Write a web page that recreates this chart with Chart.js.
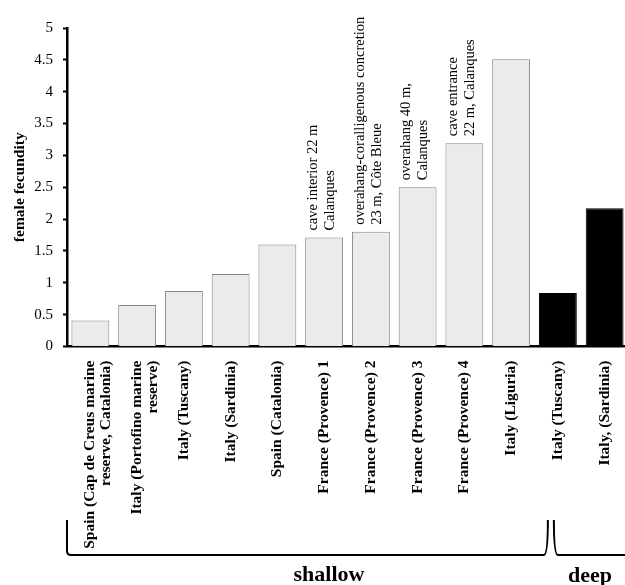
<!DOCTYPE html>
<html>
<head>
<meta charset="utf-8">
<script src="https://cdn.jsdelivr.net/npm/chart.js@4.4.1/dist/chart.umd.min.js"></script>
<style>
  html, body { margin: 0; background: #fff; overflow: hidden; }
</style>
</head>
<body>
<canvas id="myChart" width="628" height="585"></canvas>
<script>
// categories (multi-line labels)
const siteLabels = [
    ['Spain (Cap de Creus marine', 'reserve, Catalonia)'],
    ['Italy (Portofino marine', 'reserve)'],
    'Italy (Tuscany)',
    'Italy (Sardinia)',
    'Spain (Catalonia)',
    'France (Provence) 1',
    'France (Provence) 2',
    'France (Provence) 3',
    'France (Provence) 4',
    'Italy (Liguria)',
    'Italy (Tuscany)',
    'Italy, (Sardinia)'
];
const fecundity = [0.41, 0.65, 0.87, 1.14, 1.6, 1.71, 1.8, 2.5, 3.19, 4.51, 0.84, 2.17];
const depthGroup = ['shallow', 'shallow', 'shallow', 'shallow', 'shallow', 'shallow',
                    'shallow', 'shallow', 'shallow', 'shallow', 'deep', 'deep'];
const barNotes = [null, null, null, null, null,
    ['cave interior 22 m', 'Calanques'],
    ['overahang-coralligenous concretion', '23 m, Côte Bleue'],
    ['overahang 40 m,', 'Calanques'],
    ['cave entrance', '22 m, Calanques'],
    null, null, null];
const groupNames = ['shallow', 'deep'];
const yTicks = [0, 0.5, 1, 1.5, 2, 2.5, 3, 3.5, 4, 4.5, 5];

const serif = '"Liberation Serif", "Times New Roman", serif';

// text above the bars, rotated
const notesPlugin = {
    id: 'barNotes',
    afterDatasetsDraw(chart) {
        const ctx = chart.ctx;
        const meta = chart.getDatasetMeta(0);
        ctx.save();
        ctx.font = '14.5px ' + serif;
        ctx.fillStyle = '#000';
        ctx.textAlign = 'left';
        ctx.textBaseline = 'middle';
        barNotes.forEach(function(lines, i) {
            if (!lines) return;
            const bar = meta.data[i];
            ctx.save();
            ctx.translate(bar.x, bar.y - 7);
            ctx.rotate(-Math.PI / 2);
            lines.forEach(function(line, j) {
                ctx.fillText(line, 0, -11 + j * 17);
            });
            ctx.restore();
        });
        ctx.restore();
    }
};

// the shallow / deep brackets under the labels
const bracketPlugin = {
    id: 'brackets',
    afterDraw(chart) {
        const ctx = chart.ctx;
        const x = chart.scales.x;
        const firstDeep = depthGroup.indexOf('deep');
        const split = x.getPixelForValue(firstDeep) - 7;
        const left = chart.chartArea.left;
        const right = chart.width + 10;
        const top = 520, base = 555;
        ctx.save();
        ctx.strokeStyle = '#000';
        ctx.lineWidth = 2;
        ctx.beginPath();
        ctx.moveTo(left, top);
        ctx.lineTo(left, base - 4);
        ctx.quadraticCurveTo(left, base, left + 4, base);
        ctx.lineTo(split - 7, base);
        ctx.quadraticCurveTo(split - 3, base, split - 3, top);
        ctx.stroke();
        ctx.beginPath();
        ctx.moveTo(split + 3, top);
        ctx.quadraticCurveTo(split + 3, base, split + 7, base);
        ctx.lineTo(right, base);
        ctx.stroke();

        ctx.font = 'bold 22px ' + serif;
        ctx.fillStyle = '#000';
        ctx.textAlign = 'center';
        ctx.textBaseline = 'alphabetic';
        ctx.fillText(groupNames[0], 329, 581);
        ctx.fillText(groupNames[1], 590, 582);
        ctx.restore();
    }
};

const ctx = document.getElementById('myChart').getContext('2d');
const chart = new Chart(ctx, {
    type: 'bar',
    data: {
        labels: siteLabels,
        datasets: [{
            label: 'female fecundity',
            data: fecundity,
            backgroundColor: depthGroup.map(g => g === 'deep' ? '#000000' : '#ebebeb'),
            borderColor: depthGroup.map(g => g === 'deep' ? '#000000' : '#858585'),
            borderWidth: 1,
            categoryPercentage: 1,
            barPercentage: 0.81
        }]
    },
    options: {
        responsive: false,
        animation: false,
        layout: { padding: { top: 28, right: 0, left: 0, bottom: 0 } },
        plugins: {
            legend: { display: false },
            tooltip: { enabled: false }
        },
        scales: {
            x: {
                grid: { display: false },
                border: { color: '#000', width: 2.5 },
                ticks: {
                    color: '#000',
                    font: { family: serif, size: 15.5, weight: 'bold', lineHeight: 1 },
                    minRotation: 90,
                    maxRotation: 90,
                    autoSkip: false,
                    padding: 6
                },
                afterFit(scale) { scale.height = 238.5; }
            },
            y: {
                min: 0,
                max: 5,
                afterBuildTicks(scale) { scale.ticks = yTicks.map(v => ({ value: v })); },
                grid: { display: true, drawOnChartArea: false, drawTicks: true, tickLength: 4, color: '#000', tickWidth: 2 },
                border: { color: '#000', width: 2.5 },
                ticks: {
                    color: '#000',
                    font: { family: serif, size: 15 },
                    padding: 10,
                    callback: v => String(v)
                },
                title: {
                    display: true,
                    text: 'female fecundity',
                    color: '#000',
                    font: { family: serif, size: 15.5, weight: 'bold' },
                    padding: { top: 11, bottom: 0 }
                },
                afterFit(scale) { scale.width = 67; }
            }
        }
    },
    plugins: [notesPlugin, bracketPlugin]
});
</script>
</body>
</html>
